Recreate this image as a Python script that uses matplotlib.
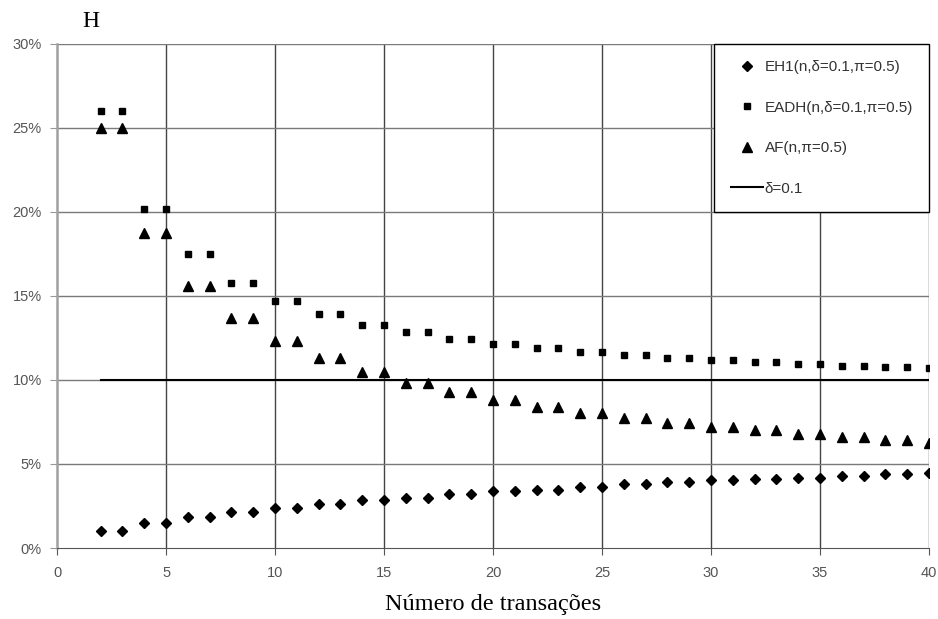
import matplotlib
matplotlib.use("Agg")
import matplotlib.pyplot as plt
from matplotlib.ticker import FuncFormatter

n = list(range(2, 41))

eh1 = [1.0, 1.0, 1.5, 1.5, 1.85, 1.85, 2.15, 2.15, 2.4, 2.4, 2.63, 2.63, 2.85, 2.85,
       3.0, 3.0, 3.2, 3.2, 3.37, 3.37, 3.48, 3.48, 3.62, 3.62, 3.8, 3.8, 3.93, 3.93,
       4.03, 4.03, 4.13, 4.13, 4.19, 4.19, 4.3, 4.3, 4.38, 4.38, 4.45]
eadh = [26.0, 26.0, 20.2, 20.2, 17.5, 17.5, 15.8, 15.8, 14.7, 14.7, 13.9, 13.9, 13.3, 13.3,
        12.85, 12.85, 12.45, 12.45, 12.15, 12.15, 11.9, 11.9, 11.68, 11.68, 11.5, 11.5,
        11.33, 11.33, 11.2, 11.2, 11.08, 11.08, 10.97, 10.97, 10.85, 10.85, 10.77, 10.77, 10.7]
af = [25.0, 25.0, 18.75, 18.75, 15.6, 15.6, 13.7, 13.7, 12.3, 12.3, 11.3, 11.3, 10.5, 10.5,
      9.8, 9.8, 9.3, 9.3, 8.8, 8.8, 8.4, 8.4, 8.05, 8.05, 7.75, 7.75, 7.45, 7.45,
      7.2, 7.2, 7.0, 7.0, 6.8, 6.8, 6.6, 6.6, 6.45, 6.45, 6.27]
delta_x = [2, 40]
delta_y = [10, 10]

labels = ["EH1(n,\u03b4=0.1,\u03c0=0.5)", "EADH(n,\u03b4=0.1,\u03c0=0.5)", "AF(n,\u03c0=0.5)", "\u03b4=0.1"]
x_ticks = [0, 5, 10, 15, 20, 25, 30, 35, 40]
y_ticks = [0, 5, 10, 15, 20, 25, 30]

fig = plt.figure(figsize=(9.38, 6.19), dpi=100)
ax = fig.add_axes([0.0608, 0.1147, 0.9296, 0.8143])

ax.plot(n, eh1, linestyle="none", marker="D", markersize=4.6, color="black", label=labels[0], zorder=3)
ax.plot(n, eadh, linestyle="none", marker="s", markersize=5, color="black", label=labels[1], zorder=3)
ax.plot(n, af, linestyle="none", marker="^", markersize=6.5, color="black", label=labels[2], zorder=3)
ax.plot(delta_x, delta_y, color="black", linewidth=1.5, label=labels[3], zorder=3)

ax.set_xlim(0, 40)
ax.set_ylim(0, 30)
ax.set_xticks(x_ticks)
ax.set_yticks(y_ticks)
ax.yaxis.set_major_formatter(FuncFormatter(lambda v, p: f"{int(v)}%"))

for x in x_ticks[1:]:
    ax.axvline(x, color="#444444", linewidth=1.0, zorder=1)
for y in y_ticks[1:]:
    ax.axhline(y, color="#7a7a7a", linewidth=1.0, zorder=1)

for s in ["top", "right"]:
    ax.spines[s].set_visible(False)
ax.spines["left"].set_color("#a0a0a0")
ax.spines["left"].set_linewidth(1.8)
ax.spines["bottom"].set_color("#555555")

ax.tick_params(axis="both", labelsize=10.5, colors="#555555", length=5, width=0.8, pad=8)
ax.tick_params(axis="y", colors="#999999", labelcolor="#555555", pad=6)
ax.tick_params(axis="x", labelcolor="#555555", pad=8)
for lbl in ax.get_xticklabels() + ax.get_yticklabels():
    lbl.set_fontfamily("Liberation Sans")

ax.set_xlabel("N\u00famero de transa\u00e7\u00f5es", fontsize=17.5, family="Liberation Serif", labelpad=10)
fig.text(0.088, 0.966, "H", fontsize=17, family="Liberation Serif", ha="left", va="center")

leg = ax.legend(loc="upper right", bbox_to_anchor=(1.0, 1.0), borderaxespad=0,
                frameon=True, fancybox=False, edgecolor="black", framealpha=1,
                prop={"family": "Liberation Sans", "size": 11}, labelspacing=1.74,
                handlelength=2.1, handletextpad=0.13, borderpad=1.05)
leg.get_frame().set_linewidth(1.0)
for t in leg.get_texts():
    t.set_color("#333333")

fig.savefig("out.png", dpi=100)
